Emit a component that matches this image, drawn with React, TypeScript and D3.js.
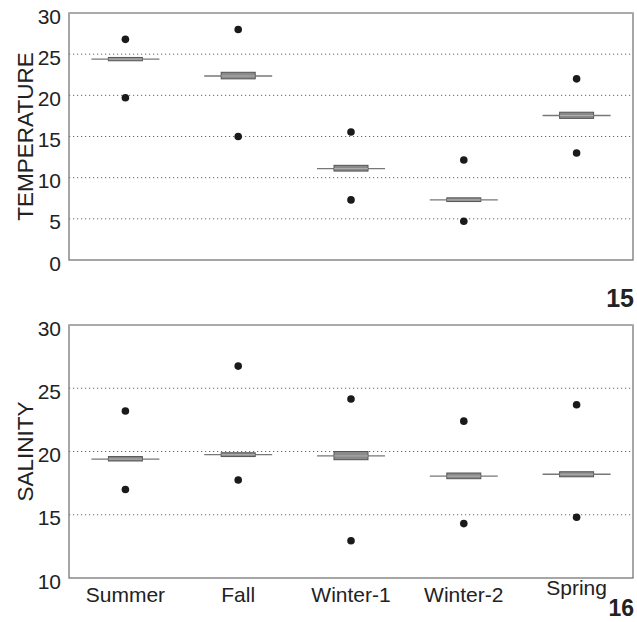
import React from "react";
import * as d3 from "d3";

// seasons on the x axis
const categories = ["Summer", "Fall", "Winter-1", "Winter-2", "Spring"];

// temperature: dots are min / max, box is q1..q3 with median line
const tempMin = [19.7, 15.0, 7.3, 4.7, 13.0];
const tempQ1 = [24.2, 22.0, 10.8, 7.1, 17.2];
const tempMedian = [24.4, 22.35, 11.1, 7.3, 17.55];
const tempQ3 = [24.6, 22.8, 11.5, 7.55, 17.95];
const tempMax = [26.8, 28.0, 15.55, 12.15, 22.0];
const tempTicks = [0, 5, 10, 15, 20, 25, 30];

// salinity
const salMin = [17.0, 17.75, 12.95, 14.3, 14.8];
const salQ1 = [19.25, 19.6, 19.35, 17.85, 18.0];
const salMedian = [19.4, 19.75, 19.65, 18.05, 18.2];
const salQ3 = [19.6, 19.9, 20.0, 18.3, 18.4];
const salMax = [23.2, 26.75, 24.15, 22.4, 23.7];
const salTicks = [10, 15, 20, 25, 30];

const W = 637;
const H = 622;
const left = 69;
const right = 633;
const font = "Arial, 'Liberation Sans', sans-serif";

type PanelProps = {
  top: number;
  bottom: number;
  domain: [number, number];
  ticks: number[];
  title: string;
  mins: number[];
  q1: number[];
  med: number[];
  q3: number[];
  maxs: number[];
  showX?: boolean;
};

const x = d3.scaleBand<string>().domain(categories).range([left, right]);

function Panel(p: PanelProps) {
  const y = d3.scaleLinear().domain(p.domain).range([p.bottom, p.top]);
  const cx = (c: string) => (x(c) as number) + x.bandwidth() / 2;
  return (
    <g>
      {/* dotted grid, skip the frame edges */}
      {p.ticks.slice(1, -1).map(t => (
        <line
          key={"g" + t}
          x1={left}
          x2={right}
          y1={y(t)}
          y2={y(t)}
          stroke="#666"
          strokeWidth={1}
          strokeDasharray="1.2,2.8"
        />
      ))}
      {/* frame */}
      <rect x={left} y={p.top} width={right - left} height={p.bottom - p.top} fill="none" stroke="#777" strokeWidth={1.3} />
      <line x1={left} x2={right} y1={p.top} y2={p.top} stroke="#aaa" strokeWidth={2} />
      {p.ticks.map(t => (
        <text
          key={"t" + t}
          x={left - 8}
          y={y(t) + 5}
          textAnchor="end"
          dominantBaseline="middle"
          fontSize={21}
          fontFamily={font}
          fill="#222"
        >
          {t}
        </text>
      ))}
      <text
        transform={`translate(33,${(p.top + p.bottom) / 2}) rotate(-90)`}
        textAnchor="middle"
        fontSize={22.5}
        fontFamily={font}
        fill="#222"
      >
        {p.title}
      </text>
      {categories.map((c, i) => (
        <g key={c}>
          <line x1={cx(c) - 34} x2={cx(c) + 34} y1={y(p.med[i])} y2={y(p.med[i])} stroke="#777" strokeWidth={1.3} />
          <rect
            x={cx(c) - 17}
            y={y(p.q3[i])}
            width={34}
            height={Math.max(1, y(p.q1[i]) - y(p.q3[i]))}
            fill="#8a8a8a"
            stroke="#555"
            strokeWidth={1}
          />
          <line x1={cx(c) - 17} x2={cx(c) + 17} y1={y(p.med[i])} y2={y(p.med[i])} stroke="#b0b0b0" strokeWidth={1} />
          <circle cx={cx(c)} cy={y(p.maxs[i])} r={3.8} fill="#1a1a1a" />
          <circle cx={cx(c)} cy={y(p.mins[i])} r={3.8} fill="#1a1a1a" />
          {p.showX && (
            <text
              x={cx(c)}
              y={c === "Spring" ? 595 : 602}
              textAnchor="middle"
              fontSize={21}
              fontFamily={font}
              fill="#222"
            >
              {c}
            </text>
          )}
        </g>
      ))}
    </g>
  );
}

export default function App() {
  return (
    <svg
      width={W}
      height={H}
      style={{ position: "absolute", left: 0, top: 0, display: "block", background: "#fff" }}
    >
      <Panel
        top={13}
        bottom={260}
        domain={[0, 30]}
        ticks={tempTicks}
        title="TEMPERATURE"
        mins={tempMin}
        q1={tempQ1}
        med={tempMedian}
        q3={tempQ3}
        maxs={tempMax}
      />
      <text x={634} y={307} textAnchor="end" fontSize={25} fontWeight="bold" fontFamily={font} fill="#222">
        15
      </text>
      <Panel
        top={325}
        bottom={578}
        domain={[10, 30]}
        ticks={salTicks}
        title="SALINITY"
        mins={salMin}
        q1={salQ1}
        med={salMedian}
        q3={salQ3}
        maxs={salMax}
        showX
      />
      <text x={634} y={616} textAnchor="end" fontSize={23} fontWeight="bold" fontFamily={font} fill="#222">
        16
      </text>
    </svg>
  );
}
